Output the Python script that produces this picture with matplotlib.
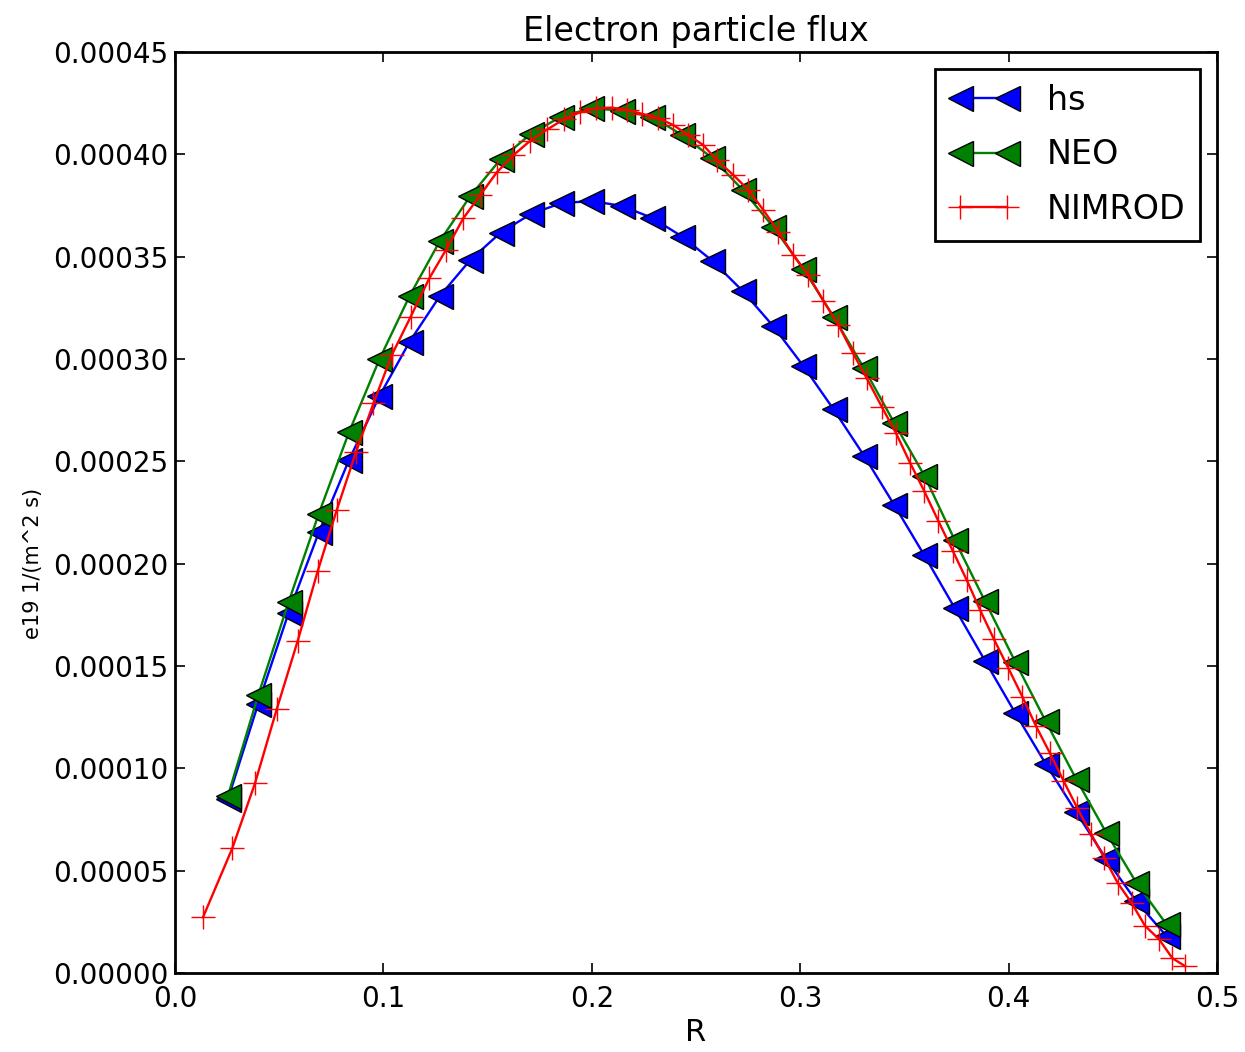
import matplotlib
matplotlib.use('Agg')
import matplotlib.pyplot as plt

# hs and NEO share the same radial grid
r_grid = [0.0254, 0.0399, 0.0545, 0.0690, 0.0835, 0.0981, 0.1126, 0.1271,
          0.1417, 0.1562, 0.1707, 0.1852, 0.1998, 0.2143, 0.2288, 0.2434,
          0.2579, 0.2724, 0.2870, 0.3015, 0.3160, 0.3306, 0.3451, 0.3596,
          0.3742, 0.3887, 0.4032, 0.4178, 0.4323, 0.4468, 0.4613, 0.4758]

hs_flux = [0.0000850, 0.0001315, 0.0001760, 0.0002153, 0.0002507, 0.0002819,
           0.0003085, 0.0003308, 0.0003484, 0.0003617, 0.0003708, 0.0003761,
           0.0003772, 0.0003748, 0.0003690, 0.0003598, 0.0003479, 0.0003332,
           0.0003161, 0.0002966, 0.0002754, 0.0002528, 0.0002287, 0.0002040,
           0.0001782, 0.0001525, 0.0001270, 0.0001022, 0.0000788, 0.0000557,
           0.0000350, 0.0000180]

neo_flux = [0.0000866, 0.0001357, 0.0001813, 0.0002245, 0.0002643, 0.0002999,
            0.0003309, 0.0003577, 0.0003796, 0.0003976, 0.0004099, 0.0004184,
            0.0004225, 0.0004213, 0.0004184, 0.0004094, 0.0003981, 0.0003826,
            0.0003646, 0.0003440, 0.0003207, 0.0002955, 0.0002688, 0.0002430,
            0.0002114, 0.0001816, 0.0001520, 0.0001230, 0.0000950, 0.0000686,
            0.0000441, 0.0000237]

r_nimrod = [0.0134, 0.0275, 0.0384, 0.0488, 0.0589, 0.0685, 0.0776, 0.0869,
            0.0952, 0.1040, 0.1131, 0.1220, 0.1300, 0.1383, 0.1464, 0.1544,
            0.1623, 0.1703, 0.1787, 0.1867, 0.1943, 0.2020, 0.2095, 0.2168,
            0.2240, 0.2319, 0.2391, 0.2463, 0.2535, 0.2599, 0.2679, 0.2751,
            0.2823, 0.2895, 0.2967, 0.3039, 0.3111, 0.3183, 0.3252, 0.3319,
            0.3391, 0.3460, 0.3527, 0.3594, 0.3663, 0.3732, 0.3799, 0.3863,
            0.3930, 0.3999, 0.4066, 0.4131, 0.4199, 0.4263, 0.4330, 0.4396,
            0.4459, 0.4523, 0.4591, 0.4655, 0.4722, 0.4786, 0.4846]

nimrod_flux = [0.0000272, 0.0000610, 0.0000928, 0.0001289, 0.0001624, 0.0001965,
               0.0002262, 0.0002547, 0.0002783, 0.0003019, 0.0003207, 0.0003394,
               0.0003533, 0.0003687, 0.0003800, 0.0003912, 0.0003995, 0.0004065,
               0.0004122, 0.0004172, 0.0004205, 0.0004225, 0.0004228, 0.0004217,
               0.0004198, 0.0004176, 0.0004143, 0.0004094, 0.0004045, 0.0003972,
               0.0003899, 0.0003826, 0.0003728, 0.0003622, 0.0003508, 0.0003410,
               0.0003284, 0.0003167, 0.0003031, 0.0002906, 0.0002767, 0.0002637,
               0.0002493, 0.0002357, 0.0002208, 0.0002063, 0.0001920, 0.0001774,
               0.0001630, 0.0001489, 0.0001350, 0.0001207, 0.0001073, 0.0000940,
               0.0000805, 0.0000679, 0.0000563, 0.0000441, 0.0000341, 0.0000230,
               0.0000165, 0.0000072, 0.0000034]

fig = plt.figure(figsize=(12.45, 10.52), dpi=100)
fig.patch.set_facecolor('white')
ax = fig.add_axes([0.1406, 0.0751, 0.8369, 0.8755])

ax.plot(r_grid, hs_flux, color='blue', lw=1.7, marker='<', ms=18,
        mfc='blue', mec='black', mew=1, label='hs')
ax.plot(r_grid, neo_flux, color='green', lw=1.7, marker='<', ms=18,
        mfc='green', mec='black', mew=1, label='NEO')
ax.plot(r_nimrod, nimrod_flux, color='red', lw=1.7, marker='+', ms=17,
        mec='red', mew=1, label='NIMROD')

ax.set_xlim(0, 0.5)
ax.set_ylim(0, 0.00045)
ax.set_xticks([0.0, 0.1, 0.2, 0.3, 0.4, 0.5])
ax.set_xticklabels(['0.0', '0.1', '0.2', '0.3', '0.4', '0.5'])
yt = [0.0, 0.00005, 0.0001, 0.00015, 0.0002, 0.00025, 0.0003, 0.00035, 0.0004, 0.00045]
ax.set_yticks(yt)
ax.set_yticklabels(['%.5f' % v for v in yt])
ax.tick_params(direction='in', length=7, width=1.2, labelsize=20,
               top=True, right=True)
ax.tick_params(axis='x', pad=9)
ax.tick_params(axis='y', pad=5)
for s in ax.spines.values():
    s.set_linewidth(2)

ax.set_title('Electron particle flux', fontsize=24, pad=8)
ax.set_xlabel('R', fontsize=22, labelpad=3)
# label sits a bit below the axes centre, left of the tick labels
ax.set_ylabel('e19 1/(m^2 s)', fontsize=15)
ax.yaxis.set_label_coords(-0.127, 0.445)

leg = ax.legend(loc='upper right', fontsize=24, numpoints=2, fancybox=False,
                handlelength=2.0, borderpad=0.45, labelspacing=0.65,
                handletextpad=0.9, borderaxespad=0.5, framealpha=1)
leg.get_frame().set_edgecolor('black')
leg.get_frame().set_linewidth(2)

fig.savefig('out.png', dpi=100, facecolor='white')
